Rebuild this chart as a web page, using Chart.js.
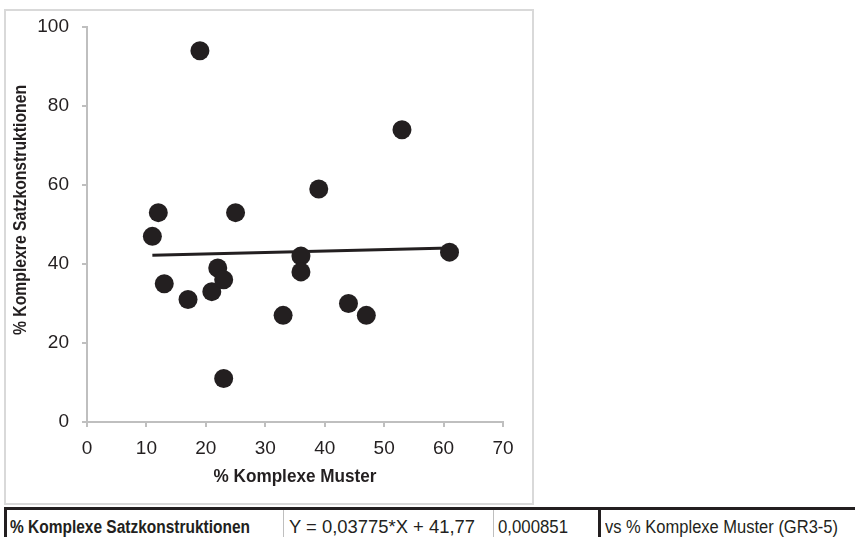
<!DOCTYPE html>
<html>
<head>
<meta charset="utf-8">
<script src="https://cdn.jsdelivr.net/npm/chart.js@4"></script>
<style>
  html, body { margin: 0; padding: 0; background: #fff; }
  body { width: 855px; height: 537px; position: relative; overflow: hidden; font-family: "Liberation Sans", Arial, sans-serif; color: #231f20; }
  #frame { position: absolute; left: 4px; top: 9px; width: 526px; height: 492px; border: 2px solid #d9d9d9; }
  #frame canvas { display: block; }
  .rule { position: absolute; background: #231f20; }
  .grule { position: absolute; background: #bfbfbf; }
  .cell { position: absolute; top: 518px; font-size: 18px; line-height: 18px; white-space: nowrap; transform-origin: 0 50%; }
  .bold { font-weight: bold; }
</style>
</head>
<body>
<div id="frame"><canvas id="c" width="526" height="492"></canvas></div>
<div class="rule" style="left:4px; top:507px; width:851px; height:3px;"></div>
<div class="rule" style="left:4px; top:507px; width:3px; height:30px;"></div>
<div class="grule" style="left:283px; top:510px; width:1px; height:27px;"></div>
<div class="grule" style="left:493px; top:510px; width:1px; height:27px;"></div>
<div class="rule" style="left:598px; top:510px; width:3px; height:27px;"></div>
<div class="cell bold" id="t1" style="left:10px;"></div>
<div class="cell" id="t2" style="left:289px;"></div>
<div class="cell" id="t3" style="left:498px;"></div>
<div class="cell" id="t4" style="left:605px;"></div>
<script>
const xValues = [11, 12, 13, 17, 19, 21, 22, 23, 23, 25, 33, 36, 36, 39, 44, 47, 53, 61];
const yValues = [47, 53, 35, 31, 94, 33, 39, 36, 11, 53, 27, 42, 38, 59, 30, 27, 74, 43];
const fitX = [11, 61];
const fitY = [42.19, 44.07];
const xTicks = [0, 10, 20, 30, 40, 50, 60, 70];
const yTicks = [0, 20, 40, 60, 80, 100];
const xTitle = "% Komplexe Muster";
const yTitle = "% Komplexre Satzkonstruktionen";
const tableCells = ["% Komplexe Satzkonstruktionen", "Y = 0,03775*X + 41,77", "0,000851", "vs % Komplexe Muster (GR3-5)"];
const tableWidths = [240, 186, 70, 233];

['t1', 't2', 't3', 't4'].forEach((id, i) => {
  const el = document.getElementById(id);
  el.textContent = tableCells[i];
  const w = el.getBoundingClientRect().width;
  el.style.transform = 'scaleX(' + (tableWidths[i] / w) + ')';
});

const ink = '#231f20';
const axisGray = '#bfbfbf';
const fam = '"Liberation Sans", Arial, sans-serif';

const pts = xValues.map((x, i) => ({x: x, y: yValues[i]}));
const fit = fitX.map((x, i) => ({x: x, y: fitY[i]}));

function drawFitted(ctx, text, cx, cy, targetW, rot) {
  ctx.save();
  ctx.font = 'bold 18px ' + fam;
  ctx.fillStyle = ink;
  ctx.textAlign = 'center';
  ctx.textBaseline = 'middle';
  const w = ctx.measureText(text).width;
  ctx.translate(cx, cy);
  ctx.rotate(rot);
  ctx.scale(targetW / w, 1);
  ctx.fillText(text, 0, 0);
  ctx.restore();
}

const titlePlugin = {
  id: 'axisTitles',
  afterDraw(chart) {
    const ctx = chart.ctx;
    const xs = chart.scales.x;
    drawFitted(ctx, xTitle, (xs.left + xs.right) / 2, 466, 163, 0);
    drawFitted(ctx, yTitle, 15, 199, 250, -Math.PI / 2);
  }
};

new Chart(document.getElementById('c'), {
  type: 'scatter',
  data: {
    datasets: [
      {
        type: 'line',
        data: fit,
        borderColor: ink,
        borderWidth: 3,
        pointRadius: 0,
        fill: false,
        order: 2
      },
      {
        data: pts,
        backgroundColor: ink,
        borderColor: ink,
        borderWidth: 0,
        pointRadius: 9.5,
        pointHoverRadius: 9.5,
        clip: false,
        order: 1
      }
    ]
  },
  plugins: [titlePlugin],
  options: {
    responsive: false,
    animation: false,
    events: [],
    layout: { padding: { top: 16, right: 29, bottom: 0, left: 0 } },
    plugins: { legend: { display: false }, tooltip: { enabled: false } },
    scales: {
      x: {
        type: 'linear',
        min: 0, max: 70,
        afterBuildTicks: (s) => { s.ticks = xTicks.map(v => ({value: v})); },
        afterFit: (s) => { s.height = 81; s.paddingLeft = 0; s.paddingRight = 0; },
        grid: { drawOnChartArea: false, drawTicks: true, tickLength: 5, color: axisGray, lineWidth: 2 },
        border: { display: true, color: axisGray, width: 2 },
        ticks: { color: ink, font: { family: fam, size: 19 }, padding: 10, maxRotation: 0 }
      },
      y: {
        type: 'linear',
        min: 0, max: 100,
        afterBuildTicks: (s) => { s.ticks = yTicks.map(v => ({value: v})); },
        afterFit: (s) => { s.width = 81; s.paddingTop = 0; s.paddingBottom = 0; },
        grid: { drawOnChartArea: false, drawTicks: true, tickLength: 5, color: axisGray, lineWidth: 2 },
        border: { display: true, color: axisGray, width: 2 },
        ticks: { color: ink, font: { family: fam, size: 19 }, padding: 13 }
      }
    }
  }
});
</script>
</body>
</html>
